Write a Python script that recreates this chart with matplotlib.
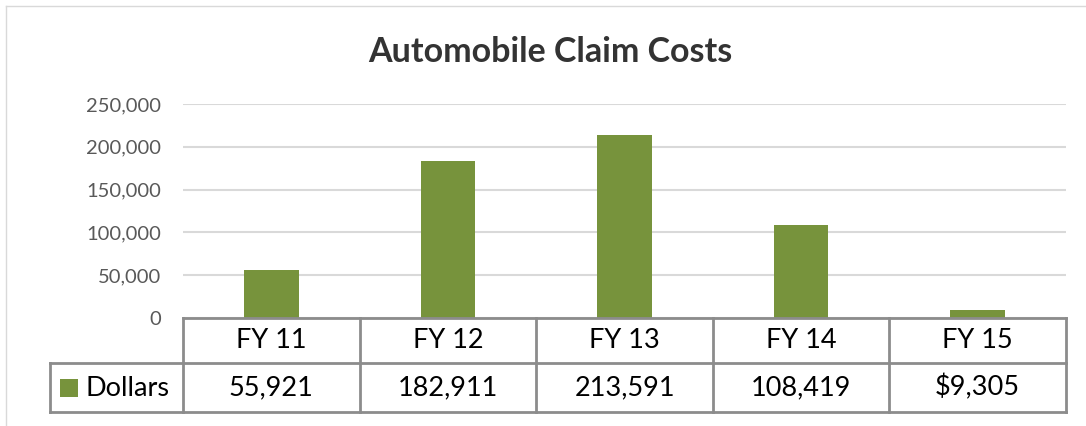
import matplotlib
matplotlib.use("Agg")
import matplotlib.pyplot as plt
from matplotlib.patches import Rectangle
from matplotlib.lines import Line2D
from matplotlib.ticker import FuncFormatter
import matplotlib.transforms as mtransforms

categories = ["FY 11", "FY 12", "FY 13", "FY 14", "FY 15"]
dollars = [55921, 182911, 213591, 108419, 9305]
table_labels = ["55,921", "182,911", "213,591", "108,419", "$9,305"]
series_name = "Dollars"
title = "Automobile Claim Costs"
yticks = [0, 50000, 100000, 150000, 200000, 250000]

GREEN = "#77933C"
GRID = "#D9D9D9"
TABLE = "#8C8C8C"
FONT = "Lato"

W, H = 1086, 426
fig = plt.figure(figsize=(W / 100, H / 100), dpi=100, facecolor="white")

# outer chart border: only the left and top edges are inside the picture
fig.add_artist(Line2D([5.5 / W, 5.5 / W], [0, 1 - 6 / H], transform=fig.transFigure,
                      color=GRID, linewidth=1.0))
fig.add_artist(Line2D([5.5 / W, 1], [1 - 6 / H, 1 - 6 / H], transform=fig.transFigure,
                      color=GRID, linewidth=1.0))

left, right, top, bottom = 183, 1066, 104, 318
ax = fig.add_axes([left / W, 1 - bottom / H, (right - left) / W, (bottom - top) / H])

x = range(len(categories))
ax.bar(x, dollars, width=0.31, color=GREEN, zorder=3)
ax.set_xlim(-0.5, len(categories) - 0.5)
ax.set_ylim(0, 250000)
ax.set_yticks(yticks)
ax.yaxis.set_major_formatter(FuncFormatter(lambda v, p: f"{int(v):,}"))
ax.set_xticks([])
ax.grid(axis="y", color=GRID, linewidth=1.5, zorder=0)
for s in ax.spines.values():
    s.set_visible(False)
ax.tick_params(axis="y", length=0, pad=16, labelsize=14.5, labelcolor="#595959")
for lbl in ax.get_yticklabels():
    lbl.set_family(FONT)

fig.text(550 / W, 1 - 52 / H, title, ha="center", va="center",
         fontsize=24.5, fontweight="bold", color="#333333", family=FONT)

# data table under the plot, x in data units, y in axes fraction
trans = mtransforms.blended_transform_factory(ax.transData, ax.transAxes)
ph = bottom - top
r0, r1, r2 = 0.0, -45 / ph, -94 / ph
xl = -0.5 - 133 / ((right - left) / len(categories))
xr = len(categories) - 0.5
lk = dict(color=TABLE, linewidth=2.0, transform=trans, clip_on=False, zorder=5)

ax.add_line(Line2D([-0.5, xr], [r0, r0], **lk))
ax.add_line(Line2D([xl, xr], [r1, r1], **lk))
ax.add_line(Line2D([xl, xr], [r2, r2], **lk))
for i in range(len(categories) + 1):
    ax.add_line(Line2D([i - 0.5, i - 0.5], [r0, r2], **lk))
ax.add_line(Line2D([xl, xl], [r1, r2], **lk))

for i, (c, t) in enumerate(zip(categories, table_labels)):
    ax.text(i, (r0 + r1) / 2, c, ha="center", va="center", fontsize=19.5,
            color="black", family=FONT, transform=trans)
    ax.text(i, (r1 + r2) / 2, t, ha="center", va="center", fontsize=19.5,
            color="black", family=FONT, transform=trans)

# legend key
fig.add_artist(Rectangle((60 / W, 1 - 397 / H), 18 / W, 18 / H,
                         transform=fig.transFigure, facecolor=GREEN,
                         edgecolor="none"))
fig.text(86 / W, 1 - 388 / H, series_name, ha="left", va="center",
         fontsize=19.5, color="black", family=FONT)

fig.savefig("out.png", dpi=100, facecolor="white")
